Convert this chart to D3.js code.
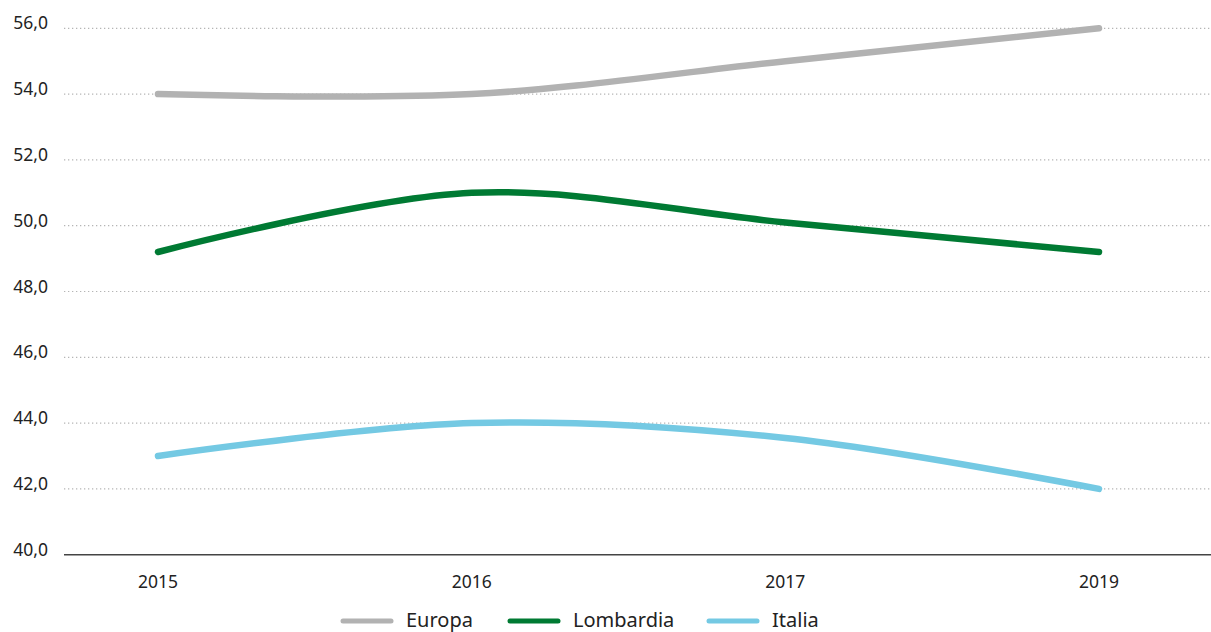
<!DOCTYPE html>
<html>
<head>
<meta charset="utf-8">
<script src="https://cdn.jsdelivr.net/npm/d3@7"></script>
<style>
  html, body { margin: 0; padding: 0; background: #fff; }
  svg { display: block; font-family: "Noto Sans", sans-serif; }
</style>
</head>
<body>
<svg id="chart" width="1211" height="632"></svg>
<script>
// Categories and series
const years = ["2015", "2016", "2017", "2019"];
const europa = [54.0, 54.0, 55.0, 56.0];
const lombardia = [49.2, 51.0, 50.1, 49.2];
const italia = [43.0, 44.0, 43.55, 42.0];
const yTicks = [40, 42, 44, 46, 48, 50, 52, 54, 56];

const seriesNames = ["Europa", "Lombardia", "Italia"];
const seriesColors = ["#b2b2b2", "#007a33", "#74c9e3"];
const seriesValues = [europa, lombardia, italia];

const svg = d3.select("#chart");
const plotLeft = 64, plotRight = 1211, plotTop = 28.3, plotBottom = 554.7;

const x = d3.scalePoint().domain(years).range([158, 1099]);
const y = d3.scaleLinear().domain([40, 56]).range([plotBottom, plotTop]);

const fmt = v => d3.format(".1f")(v).replace(".", ",");

// dotted horizontal gridlines
svg.append("g")
  .selectAll("line")
  .data(yTicks.filter(t => t !== 40))
  .join("line")
  .attr("x1", plotLeft).attr("x2", plotRight)
  .attr("y1", d => y(d)).attr("y2", d => y(d))
  .attr("stroke", "#b5b5b5")
  .attr("stroke-width", 1.2)
  .attr("stroke-dasharray", "1.3,2.7");

// y tick labels
svg.append("g")
  .selectAll("text")
  .data(yTicks)
  .join("text")
  .attr("x", 48)
  .attr("y", d => y(d) + 1)
  .attr("text-anchor", "end")
  .attr("font-size", 17.5)
  .attr("fill", "#222")
  .text(fmt);

// x axis baseline
svg.append("line")
  .attr("x1", plotLeft).attr("x2", plotRight)
  .attr("y1", y(40)).attr("y2", y(40))
  .attr("stroke", "#444").attr("stroke-width", 1.6);

// x labels
svg.append("g")
  .selectAll("text")
  .data(years)
  .join("text")
  .attr("x", d => x(d))
  .attr("y", 588)
  .attr("text-anchor", "middle")
  .attr("font-size", 17.5)
  .attr("fill", "#222")
  .text(d => d);

// series lines
const line = d3.line()
  .x((d, i) => x(years[i]))
  .y(d => y(d))
  .curve(d3.curveCatmullRom.alpha(0.5));

svg.append("g")
  .selectAll("path")
  .data(seriesValues)
  .join("path")
  .attr("d", d => line(d))
  .attr("fill", "none")
  .attr("stroke", (d, i) => seriesColors[i])
  .attr("stroke-width", 6.5)
  .attr("stroke-linecap", "round")
  .attr("stroke-linejoin", "round");

// legend
const legendX = [343, 510, 709];
const legend = svg.append("g")
  .selectAll("g")
  .data(seriesNames)
  .join("g")
  .attr("transform", (d, i) => `translate(${legendX[i]},621)`);

legend.append("line")
  .attr("x1", 0).attr("x2", 48)
  .attr("stroke", (d, i) => seriesColors[i])
  .attr("stroke-width", 5)
  .attr("stroke-linecap", "round");

legend.append("text")
  .attr("x", 63)
  .attr("y", 5.5)
  .attr("font-size", 20)
  .attr("fill", "#222")
  .text(d => d);
</script>
</body>
</html>
